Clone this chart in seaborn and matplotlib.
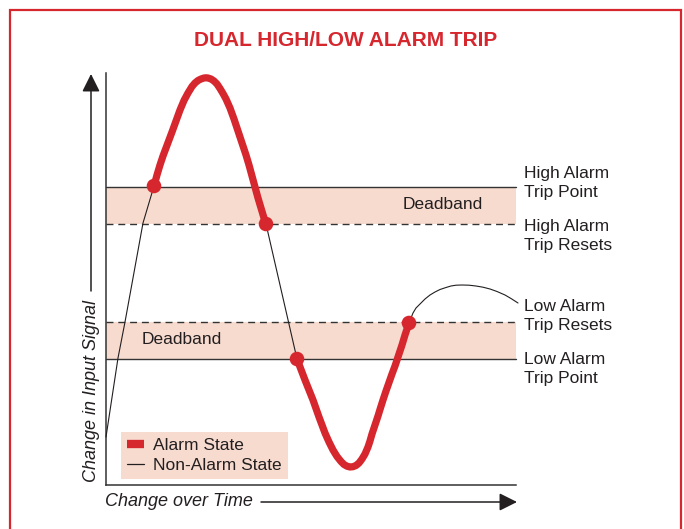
import matplotlib
matplotlib.use("Agg")
import matplotlib.pyplot as plt
import seaborn as sns
from matplotlib.lines import Line2D
from matplotlib.patches import Rectangle

# traced curve, time vs. signal (arbitrary units)
rise_t = [0, 12, 19, 37, 48]
rise_s = [48, 127, 163, 262, 299]

alarm_hi_t = [48, 51, 54, 57, 60, 63, 66, 70, 74, 78, 82, 86, 89, 92, 95, 98, 100,
              102, 105, 108, 111, 114, 117, 120, 124, 128, 132, 136, 140, 143, 146,
              149, 152, 155, 158, 160]
alarm_hi_s = [299, 310, 320, 329, 337, 345, 353, 364, 375, 384.5, 392, 398.5, 402,
              404.5, 406, 407, 407.2, 407, 406, 404, 401, 396.5, 391.5, 386, 377, 366,
              354, 342, 330, 320, 309, 298, 287, 277, 267, 261]

fall_t = [160, 191]
fall_s = [261, 126]

alarm_lo_t = [191, 195, 199, 203, 207, 210, 213, 216, 219, 223, 227, 231, 235, 238,
              241, 244, 247, 250, 253, 256, 259, 262, 264, 266, 268, 270, 272, 274,
              277, 280, 283, 286, 289, 292, 296, 299, 303]
alarm_lo_s = [126, 115.5, 105, 95, 85, 76.5, 68, 60, 52, 43, 35, 28.5, 23.5, 20.5,
              18.8, 18, 18.3, 19.5, 22, 26, 31, 38, 44, 51, 57, 63, 69, 75.5, 85, 94,
              102.5, 111, 119, 128, 140, 150, 162]

tail_t = [303, 305, 307, 310, 314, 319, 324, 329, 334, 340, 345, 350, 356, 363, 370,
          377, 384, 391, 399, 405, 412]
tail_s = [162, 167, 172, 177, 181, 186, 190, 193, 195.5, 197.5, 199, 199.8, 200,
          199.8, 199, 197.8, 196, 193.5, 190, 186.5, 182]

dot_t = [48, 160, 191, 303]
dot_s = [299, 261, 126, 162]

high_trip, high_reset = 298, 261
low_reset, low_trip = 163, 126

right_labels = ["High Alarm\nTrip Point", "High Alarm\nTrip Resets",
                "Low Alarm\nTrip Resets", "Low Alarm\nTrip Point"]
right_label_y = [302, 249, 169, 116]

RED = "#D6262E"
PEACH = "#F7DBCF"
INK = "#231F20"
LINE = "#333333"

sns.set_style("white")
plt.rcParams['font.family'] = ['Liberation Sans', 'DejaVu Sans']

fig = plt.figure(figsize=(6.84, 5.29), dpi=100)
ax = fig.add_axes([106 / 684, 44 / 529, 410 / 684, 412 / 529])
ax.set_xlim(0, 410)
ax.set_ylim(0, 412)

# deadbands
ax.axhspan(high_reset, high_trip, color=PEACH, lw=0, zorder=0)
ax.axhspan(low_trip, low_reset, color=PEACH, lw=0, zorder=0)
ax.axhline(high_trip, color=LINE, lw=1.0, zorder=1)
ax.axhline(low_trip, color=LINE, lw=1.0, zorder=1)
ax.axhline(high_reset, color=LINE, lw=1.0, ls=(0, (5, 3.5)), zorder=1)
ax.axhline(low_reset, color=LINE, lw=1.0, ls=(0, (5, 3.5)), zorder=1)

# curve pieces
for t, s in [(rise_t, rise_s), (fall_t, fall_s), (tail_t, tail_s)]:
    sns.lineplot(x=t, y=s, sort=False, estimator=None, color=INK, lw=0.8, ax=ax, zorder=3)
for t, s in [(alarm_hi_t, alarm_hi_s), (alarm_lo_t, alarm_lo_s)]:
    sns.lineplot(x=t, y=s, sort=False, estimator=None, color=RED, lw=5.2, ax=ax, zorder=4,
                 solid_capstyle='round', solid_joinstyle='round')
sns.scatterplot(x=dot_t, y=dot_s, color=RED, s=110, edgecolor='none', ax=ax, zorder=5)
for line in ax.lines:
    line.set_clip_on(False)

ax.text(337, 281, "Deadband", ha='center', va='center', fontsize=12.5, color=INK)
ax.text(76, 145, "Deadband", ha='center', va='center', fontsize=12.5, color=INK)
for lab, y in zip(right_labels, right_label_y):
    ax.text(418, y, lab, ha='left', va='center', fontsize=12.5, color=INK,
            linespacing=1.35, clip_on=False)

ax.set_xticks([])
ax.set_yticks([])
for side in ['top', 'right']:
    ax.spines[side].set_visible(False)
for side in ['left', 'bottom']:
    ax.spines[side].set_color(LINE)
    ax.spines[side].set_linewidth(1.1)

handles = [Line2D([], [], color=RED, lw=6, solid_capstyle='butt'),
           Line2D([], [], color=INK, lw=0.9)]
leg = ax.legend(handles, ["Alarm State", "Non-Alarm State"], loc='upper left',
                bbox_to_anchor=(121 / 684, 1 - 432 / 529), bbox_transform=fig.transFigure,
                fontsize=12.5, frameon=True, facecolor=PEACH, edgecolor='none', fancybox=False,
                framealpha=1, borderpad=0.35, labelspacing=0.25, handlelength=1.0,
                handletextpad=0.5, borderaxespad=0)
for txt in leg.get_texts():
    txt.set_color(INK)

# axis labels with arrows
fig.text(91 / 684, 1 - 391 / 529, "Change in Input Signal", rotation=90, style='italic',
         ha='center', va='center', fontsize=13, color=INK)
fig.text(105 / 684, 1 - 501 / 529, "Change over Time", style='italic',
         ha='left', va='center', fontsize=13, color=INK)
arrow = dict(arrowstyle='-|>,head_length=0.9,head_width=0.45', color=INK, lw=1.1,
             mutation_scale=12, shrinkA=0, shrinkB=0)
ax.annotate("", xy=(91, 529 - 74), xytext=(91, 529 - 291), xycoords='figure pixels',
            textcoords='figure pixels', arrowprops=arrow, annotation_clip=False)
ax.annotate("", xy=(517, 529 - 502), xytext=(261, 529 - 502), xycoords='figure pixels',
            textcoords='figure pixels', arrowprops=arrow, annotation_clip=False)

fig.text(346 / 684, 1 - 41 / 529, "DUAL HIGH/LOW ALARM TRIP", ha='center', va='center',
         fontsize=15, fontweight='bold', color=RED)

fig.patches.append(Rectangle((10 / 684, -0.05), 671 / 684, 1 - 10 / 529 + 0.05,
                             transform=fig.transFigure, fill=False, edgecolor=RED, lw=1.6))

fig.savefig("out.png", dpi=100)
